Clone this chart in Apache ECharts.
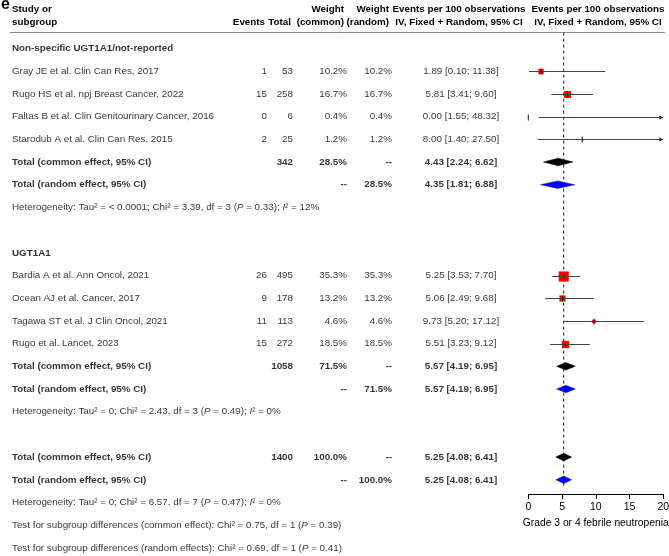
<!DOCTYPE html>
<html><head><meta charset="utf-8">
<script src="https://cdn.jsdelivr.net/npm/echarts@6/dist/echarts.min.js"></script>
<style>html,body{margin:0;padding:0;background:#fff}#c{width:669px;height:556px}</style>
</head><body><div id="c"></div><script>
// ---------------- data ----------------
const groupLabels = ['Non-specific UGT1A1/not-reported', 'UGT1A1'];
const studies = [
  'Gray JE et al. Clin Can Res, 2017',
  'Rugo HS et al. npj Breast Cancer, 2022',
  'Faltas B et al. Clin Genitourinary Cancer, 2016',
  'Starodub A et al. Clin Can Res, 2015',
  'Bardia A et al. Ann Oncol, 2021',
  'Ocean AJ et al. Cancer, 2017',
  'Tagawa ST et al. J Clin Oncol, 2021',
  'Rugo et al. Lancet, 2023'
];
const studyGroup   = [0, 0, 0, 0, 1, 1, 1, 1];
const events       = [1, 15, 0, 2, 26, 9, 11, 15];
const totals       = [53, 258, 6, 25, 495, 178, 113, 272];
const weightCommon = [10.2, 16.7, 0.4, 1.2, 35.3, 13.2, 4.6, 18.5];
const weightRandom = [10.2, 16.7, 0.4, 1.2, 35.3, 13.2, 4.6, 18.5];
const estimates    = [1.89, 5.81, 0.00, 8.00, 5.25, 5.06, 9.73, 5.51];
const ciLower      = [0.10, 3.41, 1.55, 1.40, 3.53, 2.49, 5.20, 3.23];
const ciUpper      = [11.38, 9.60, 48.32, 27.50, 7.70, 9.68, 17.12, 9.12];

// pooled: [group 1, group 2, overall]
const pooledTotals  = [342, 1058, 1400];
const pooledWeights = [28.5, 71.5, 100.0];
const commonEst = [4.43, 5.57, 5.25];
const commonLo  = [2.24, 4.19, 4.08];
const commonHi  = [6.62, 6.95, 6.41];
const randomEst = [4.35, 5.57, 5.25];
const randomLo  = [1.81, 4.19, 4.08];
const randomHi  = [6.88, 6.95, 6.41];
const hetTau2 = ['< 0.0001', '0', '0'];
const hetChi2 = ['3.39', '2.43', '6.57'];
const hetDf   = [3, 3, 7];
const hetP    = ['0.33', '0.49', '0.47'];
const hetI2   = ['12', '0', '0'];
const subgroupTestLabels = ['common effect', 'random effects'];
const subgroupChi2 = ['0.75', '0.69'];
const subgroupDf   = [1, 1];
const subgroupP    = ['0.39', '0.41'];

const xTicks = [0, 5, 10, 15, 20];
const xAxisTitle = 'Grade 3 or 4 febrile neutropenia';

// ---------------- layout ----------------
const W = 669, H = 556;
const ROW0 = 48.5, ROWH = 22.7;
const FONT = '"Liberation Sans", Arial, Helvetica, sans-serif';
const FS = 9.8;
const COL = { study: 12, events: 267, total: 293, wc: 347, wr: 392, est: 461 };
const PLOT_L = 528.3, PLOT_R = 663.3, AXIS_Y = 494;
const FOREST_MIN_ROW = -0.7;
const FOREST_MAX_ROW = (AXIS_Y - ROW0) / ROWH;

const textItems = [];
function cell(x, row, txt, align, bold) {
  textItems.push({ value: [x, row], txt: txt,
    label: { align: align, fontWeight: bold ? 'bold' : 'normal' } });
}
const pct = v => v.toFixed(1) + '%';
const ci = (e, l, h) => e.toFixed(2) + ' [' + l.toFixed(2) + '; ' + h.toFixed(2) + ']';

const studyRows = [], commonRows = [], randomRows = [];
let r = 0;
function pooledRows(k) {
  commonRows[k] = r;
  cell(COL.study, r, 'Total (common effect, 95% CI)', 'left', true);
  cell(COL.total, r, String(pooledTotals[k]), 'right', true);
  cell(COL.wc, r, pct(pooledWeights[k]), 'right', true);
  cell(COL.wr, r, '--', 'right', true);
  cell(COL.est, r, ci(commonEst[k], commonLo[k], commonHi[k]), 'center', true);
  r++;
  randomRows[k] = r;
  cell(COL.study, r, 'Total (random effect, 95% CI)', 'left', true);
  cell(COL.wc, r, '--', 'right', true);
  cell(COL.wr, r, pct(pooledWeights[k]), 'right', true);
  cell(COL.est, r, ci(randomEst[k], randomLo[k], randomHi[k]), 'center', true);
  r++;
  cell(COL.study, r, 'Heterogeneity: Tau\u00B2 = ' + hetTau2[k] + '; Chi\u00B2 = ' + hetChi2[k] +
    ', df = ' + hetDf[k] + ' ({i|P} = ' + hetP[k] + '); {i|I}\u00B2 = ' + hetI2[k] + '%', 'left', false);
  r++;
}
groupLabels.forEach((g, gi) => {
  cell(COL.study, r, g, 'left', true); r++;
  studies.forEach((s, i) => {
    if (studyGroup[i] !== gi) return;
    studyRows[i] = r;
    cell(COL.study, r, s, 'left', false);
    cell(COL.events, r, String(events[i]), 'right', false);
    cell(COL.total, r, String(totals[i]), 'right', false);
    cell(COL.wc, r, pct(weightCommon[i]), 'right', false);
    cell(COL.wr, r, pct(weightRandom[i]), 'right', false);
    cell(COL.est, r, ci(estimates[i], ciLower[i], ciUpper[i]), 'center', false);
    r++;
  });
  pooledRows(gi);
  r++; // blank
});
pooledRows(2);
subgroupTestLabels.forEach((t, k) => {
  cell(COL.study, r, 'Test for subgroup differences (' + t + '): Chi\u00B2 = ' + subgroupChi2[k] +
    ', df = ' + subgroupDf[k] + ' ({i|P} = ' + subgroupP[k] + ')', 'left', false);
  r++;
});

// ---------------- chart ----------------
const chart = echarts.init(document.getElementById('c'), null, { renderer: 'canvas' });

const hdr = (x, y, t, align) => ({ type: 'text', x: x, y: y, silent: true,
  style: { text: t, align: align, verticalAlign: 'middle', fontSize: FS, fontWeight: 'bold',
    fontFamily: FONT, fill: '#000' } });

function studyRender(params, api) {
  const est = api.value(0), lo = api.value(1), hi = api.value(2), row = api.value(3), w = api.value(4);
  const xmin = xTicks[0], xmax = xTicks[xTicks.length - 1];
  const pE = api.coord([est, row]);
  const pL = api.coord([Math.max(lo, xmin), row]);
  const pH = api.coord([Math.min(hi, xmax), row]);
  const s = 1.7 * Math.sqrt(w);
  const y = Math.round(pE[1]) + 0.5;
  const ch = [
    { type: 'rect', shape: { x: pE[0] - s / 2, y: y - s / 2, width: s, height: s },
      style: { fill: '#ff0000' } },
    { type: 'line', shape: { x1: pL[0], y1: y, x2: pH[0], y2: y },
      style: { stroke: '#444', lineWidth: 1 } },
    { type: 'line', shape: { x1: pE[0], y1: y - 3, x2: pE[0], y2: y + 3 },
      style: { stroke: '#222', lineWidth: 1 } }
  ];
  if (hi > xmax) {
    ch.push({ type: 'polygon', shape: { points: [[pH[0], y], [pH[0] - 4, y - 2], [pH[0] - 4, y + 2]] },
      style: { fill: '#222' } });
  }
  return { type: 'group', children: ch };
}
function diamondRender(params, api) {
  const est = api.value(0), lo = api.value(1), hi = api.value(2), row = api.value(3), kind = api.value(4);
  const pE = api.coord([est, row]), pL = api.coord([lo, row]), pH = api.coord([hi, row]);
  const h = 3.8;
  return { type: 'polygon',
    shape: { points: [[pL[0], pE[1]], [pE[0], pE[1] - h], [pH[0], pE[1]], [pE[0], pE[1] + h]] },
    style: { fill: kind === 0 ? '#000' : '#0000ff', stroke: kind === 0 ? '#000' : '#1a1a80', lineWidth: 0.5 } };
}

const diamonds = [];
for (let k = 0; k < 3; k++) {
  diamonds.push([commonEst[k], commonLo[k], commonHi[k], commonRows[k], 0]);
  diamonds.push([randomEst[k], randomLo[k], randomHi[k], randomRows[k], 1]);
}

chart.setOption({
  animation: false,
  backgroundColor: '#fff',
  textStyle: { fontFamily: FONT },
  grid: [
    { left: 0, top: 0, width: W, height: H, outerBoundsMode: 'none', containLabel: false },
    { left: PLOT_L, width: PLOT_R - PLOT_L, top: ROW0 + ROWH * FOREST_MIN_ROW,
      height: AXIS_Y - (ROW0 + ROWH * FOREST_MIN_ROW), outerBoundsMode: 'none', containLabel: false }
  ],
  xAxis: [
    { gridIndex: 0, type: 'value', min: 0, max: W, show: false },
    { gridIndex: 1, type: 'value', min: xTicks[0], max: xTicks[xTicks.length - 1], interval: xTicks[1] - xTicks[0],
      position: 'bottom',
      axisLine: { show: true, onZero: false, lineStyle: { color: '#000', width: 1 } },
      axisTick: { show: true, length: 5, lineStyle: { color: '#000' } },
      axisLabel: { color: '#000', fontSize: 10.5, margin: 8, fontFamily: FONT },
      splitLine: { show: false },
      name: xAxisTitle, nameLocation: 'middle', nameGap: 24,
      nameTextStyle: { color: '#000', fontSize: 10.3, fontFamily: FONT } }
  ],
  yAxis: [
    { gridIndex: 0, type: 'value', inverse: true, min: -ROW0 / ROWH, max: (H - ROW0) / ROWH, show: false },
    { gridIndex: 1, type: 'value', inverse: true, min: FOREST_MIN_ROW, max: FOREST_MAX_ROW, show: false }
  ],
  graphic: [
    { type: 'text', x: 1, y: 5, style: { text: 'e', fontSize: 16, fontWeight: 'bold', fontFamily: FONT,
      fill: '#000', align: 'left', verticalAlign: 'middle' } },
    hdr(COL.study, 9, 'Study or', 'left'),
    hdr(COL.study, 22, 'subgroup', 'left'),
    hdr(265, 22, 'Events', 'right'),
    hdr(291, 22, 'Total', 'right'),
    hdr(344, 9, 'Weight', 'right'),
    hdr(344, 22, '(common)', 'right'),
    hdr(389, 9, 'Weight', 'right'),
    hdr(389, 22, '(random)', 'right'),
    hdr(459, 9, 'Events per 100 observations', 'center'),
    hdr(459, 22, 'IV, Fixed + Random, 95% CI', 'center'),
    hdr(598, 9, 'Events per 100 observations', 'center'),
    hdr(598, 22, 'IV, Fixed + Random, 95% CI', 'center'),
    { type: 'line', shape: { x1: 10, y1: 32.5, x2: 665, y2: 32.5 }, style: { stroke: '#888', lineWidth: 1 } }
  ],
  series: [
    { type: 'scatter', xAxisIndex: 0, yAxisIndex: 0, symbolSize: 0, silent: true, data: textItems,
      label: { show: true, position: 'inside', verticalAlign: 'middle', color: '#000', fontSize: FS,
        fontFamily: FONT, formatter: p => p.data.txt,
        rich: { i: { fontStyle: 'italic', fontSize: FS, fontFamily: FONT, color: '#000' } } } },
    { type: 'line', xAxisIndex: 1, yAxisIndex: 1, symbol: 'none', silent: true, z: 1,
      data: [[commonEst[2], FOREST_MIN_ROW], [commonEst[2], 19.35]],
      lineStyle: { color: '#000', width: 0.9, type: [3, 3] } },
    { type: 'custom', xAxisIndex: 1, yAxisIndex: 1, z: 3, silent: true, clip: false,
      data: studies.map((s, i) => [estimates[i], ciLower[i], ciUpper[i], studyRows[i], weightCommon[i]]),
      encode: { x: [0, 1, 2], y: 3 }, renderItem: studyRender },
    { type: 'custom', xAxisIndex: 1, yAxisIndex: 1, z: 3, silent: true,
      data: diamonds, encode: { x: [0, 1, 2], y: 3 }, renderItem: diamondRender }
  ]
});
</script></body></html>
